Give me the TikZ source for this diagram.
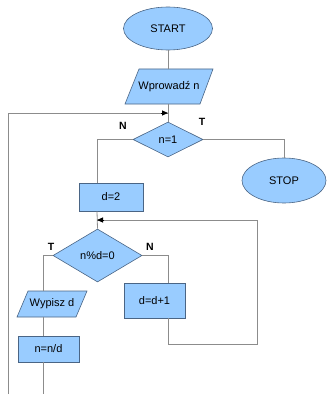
\documentclass[tikz,border=0pt]{standalone}
\usepackage{fontspec}
\setmainfont{Liberation Sans}
\usetikzlibrary{shapes.geometric,arrows.meta,calc}
\definecolor{boxfill}{HTML}{99CCFF}
\definecolor{boxline}{HTML}{4A6585}
\definecolor{conn}{HTML}{8C8C8C}
\tikzset{
  shapebase/.style={fill=boxfill,draw=boxline,line width=0.6pt,inner sep=0pt,font=\fontsize{11}{13}\selectfont},
  terminal/.style={shapebase,ellipse},
  procbox/.style={shapebase,rectangle},
  decision/.style={shapebase,diamond},
  iobox/.style={fill=boxfill,draw=boxline,line width=0.6pt},
  iotext/.style={inner sep=0pt,font=\fontsize{11}{13}\selectfont},
  wire/.style={draw=conn,line width=0.8pt},
  lbl/.style={inner sep=0pt,font=\bfseries\fontsize{10.5}{12}\selectfont},
  tip/.style={-{Triangle[length=6pt,width=5pt]},black,line width=0.8pt}
}
\begin{document}
\begin{tikzpicture}[x=1pt,y=-1pt]
\useasboundingbox (0,0) rectangle (327,396);
% START
\node[terminal,minimum width=89,minimum height=43] (start) at (168,28.5) {START};
% input parallelogram
\draw[iobox] (125,104) -- (139,69) -- (213,69) -- (200,104) -- cycle;
\coordinate (inT) at (168,69);
\coordinate (inB) at (168,104);
\node[iotext] (input) at (169,87) {Wprowadź n};
% decision n=1
\node[decision,minimum width=70,minimum height=35] (d1) at (168,139.5) {n=1};
% STOP
\node[terminal,minimum width=84,minimum height=45] (stop) at (284,180.5) {STOP};
% d=2
\node[procbox,minimum width=64,minimum height=28] (d2) at (111,197) {d=2};
% decision n%d=0
\node[decision,minimum width=89,minimum height=53] (d3) at (97.5,255.5) {n\%d=0};
% d=d+1
\node[procbox,minimum width=61,minimum height=35] (inc) at (154.5,300.5) {d=d+1};
% Wypisz d
\draw[iobox] (17,317) -- (28,291) -- (87,291) -- (76,317) -- cycle;
\coordinate (outT) at (43,291);
\coordinate (outB) at (43,317);
\node[iotext] (output) at (52,304) {Wypisz d};
% n=n/d
\node[procbox,minimum width=61,minimum height=26] (div) at (48.5,349) {n=n/d};
% labels
\node[lbl] (N1) at (123,126) {N};
\node[lbl] (T1) at (202,122) {T};
\node[lbl] (T2) at (51,247) {T};
\node[lbl] (N2) at (150,247) {N};
% coordinates
\coordinate (j1) at (168,113);
\coordinate (j2) at (97,220);
\coordinate (bot) at (43,394);
\coordinate (botL) at (8,394);
% connectors
\draw[wire] (start.south) -- (inT);
\draw[wire] (inB) -- (d1.north);
\draw[wire] (d1.east) -| (stop.north);
\draw[wire] (d1.west) -| (d2.north -| j2);
\draw[wire] (d2.south -| j2) -- (d3.north);
\draw[wire] (d3.east) -| (inc.north -| 168,0);
\draw[wire] (inc.south -| 168,0) |- (257,344) |- (j2);
\draw[tip] ($(j2)+(7,0)$) -- (j2);
\draw[wire] (d3.west) -| (outT);
\draw[wire] (outB) -- (div.north -| outB);
\draw[wire] (div.south -| outB) -- (bot);
\draw[wire] (botL) |- (j1);
\draw[tip] ($(j1)+(-7,0)$) -- (j1);
\end{tikzpicture}
\end{document}
